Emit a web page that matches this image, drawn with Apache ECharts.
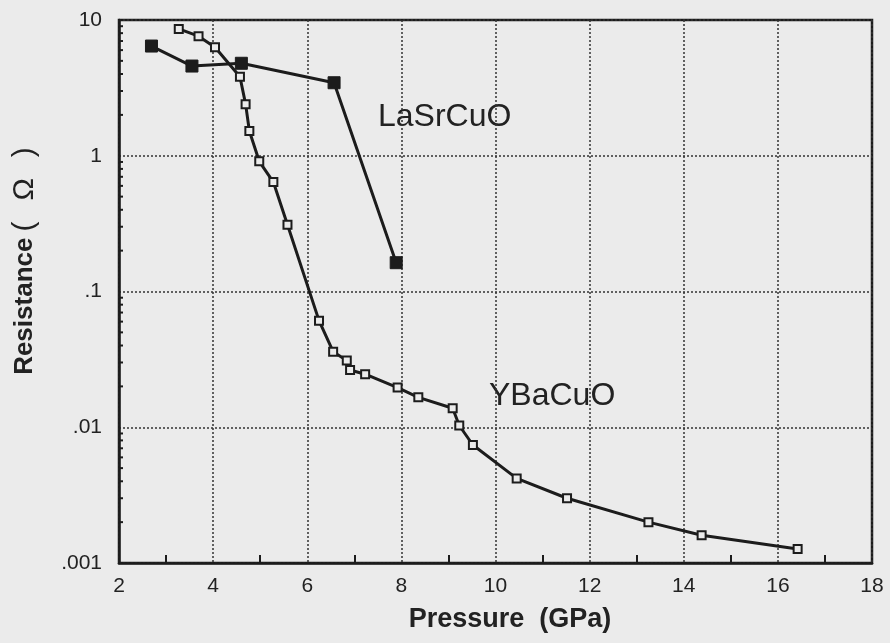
<!DOCTYPE html>
<html>
<head>
<meta charset="utf-8">
<title>Resistance vs Pressure</title>
<script src="https://cdn.jsdelivr.net/npm/echarts@6/dist/echarts.min.js"></script>
<style>
	html,body{margin:0;padding:0;background:#ebebeb;}
	#main{width:890px;height:643px;}
</style>
</head>
<body>
<div id="main"></div>
<script>
// YBaCuO (open squares)
var ybaPressure = [3.27, 3.69, 4.04, 4.57, 4.69, 4.77, 4.98, 5.28, 5.58, 6.25, 6.55, 6.84, 6.91, 7.23, 7.92, 8.36, 9.09, 9.23, 9.52, 10.45, 11.52, 13.25, 14.38, 16.42];
var ybaResistance = [8.59, 7.6, 6.3, 3.82, 2.4, 1.52, 0.91, 0.64, 0.31, 0.061, 0.036, 0.031, 0.0264, 0.0246, 0.0196, 0.0166, 0.0138, 0.0103, 0.0074, 0.0042, 0.0030, 0.0020, 0.0016, 0.00127];

// LaSrCuO (filled squares)
var lsoPressure = [2.69, 3.55, 4.60, 6.57, 7.89];
var lsoResistance = [6.43, 4.58, 4.80, 3.45, 0.163];

var xTicks = [2, 4, 6, 8, 10, 12, 14, 16, 18];
var yTickLabels = {'-3': '.001', '-2': '.01', '-1': '.1', '0': '1', '1': '10'};
var decades = [0.001, 0.01, 0.1, 1];
var mantissas = [2, 3, 4, 5, 6, 7, 8, 9];

window.onload = function(){
	drawChart();
};

function pairs(xs, ys){
	var out = [];
	for(var i=0;i<xs.length;i++){
		out.push([xs[i], ys[i]]);
	}
	return out;
}

function drawChart(){
	var myChart = echarts.init(document.getElementById('main'), null, {renderer:'canvas'});

	// log minor ticks on the left axis (2..9 in each decade)
	var logMinor = [];
	decades.forEach(function(d){
		mantissas.forEach(function(m){
			logMinor.push([xTicks[0], m * d]);
		});
	});

	var ink = '#1c1c1c';
	var font = '"Liberation Sans", Arial, Helvetica, sans-serif';

	var option = {
		backgroundColor: '#ebebeb',
		animation: false,
		grid: {
			left: 119, right: 18, top: 20, bottom: 80,
			show: true, borderColor: ink, borderWidth: 2.5,
			backgroundColor: 'transparent'
		},
		xAxis: {
			type: 'value',
			min: xTicks[0], max: xTicks[xTicks.length-1], interval: 2,
			axisLine: {show: true, lineStyle: {color: ink, width: 2.5}},
			axisTick: {show: false, inside: true},
			minorTick: {show: true, splitNumber: 2, length: 8, lineStyle: {color: ink, width: 2}},
			axisLabel: {color: '#222', fontSize: 21, fontFamily: font, margin: 13},
			splitLine: {show: true, lineStyle: {color: '#333', width: 1.5, type: [2, 2]}}
		},
		yAxis: {
			type: 'log', logBase: 10,
			min: 0.001, max: 10,
			axisLine: {show: true, lineStyle: {color: ink, width: 2.5}},
			axisTick: {show: false},
			axisLabel: {
				color: '#222', fontSize: 21, fontFamily: font, margin: 17,
				formatter: function(v){
					return yTickLabels[Math.round(Math.log10(v))];
				}
			},
			splitLine: {show: true, lineStyle: {color: '#333', width: 1.5, type: [2, 2]}}
		},
		series: [
			{
				name: 'LaSrCuO',
				type: 'line',
				data: pairs(lsoPressure, lsoResistance),
				symbol: 'rect', symbolSize: 12,
				lineStyle: {color: ink, width: 3},
				itemStyle: {color: ink, borderColor: ink, borderWidth: 1},
				z: 3
			},
			{
				name: 'YBaCuO',
				type: 'line',
				data: pairs(ybaPressure, ybaResistance),
				symbol: 'rect', symbolSize: 8,
				lineStyle: {color: ink, width: 3},
				itemStyle: {color: '#ebebeb', borderColor: ink, borderWidth: 2},
				z: 4
			},
			{
				name: 'minor',
				type: 'custom',
				silent: true,
				clip: false,
				data: logMinor,
				renderItem: function(params, api){
					var p = api.coord([api.value(0), api.value(1)]);
					return {
						type: 'line',
						shape: {x1: p[0], y1: p[1], x2: p[0] + 4, y2: p[1]},
						style: {stroke: ink, lineWidth: 2}
					};
				}
			}
		],
		graphic: [
			{
				type: 'text', x: 378, y: 117,
				style: {text: 'LaSrCuO', font: '32px ' + font, fill: '#222', textAlign: 'left', textVerticalAlign: 'middle'}
			},
			{
				type: 'text', x: 489, y: 396,
				style: {text: 'YBaCuO', font: '32px ' + font, fill: '#222', textAlign: 'left', textVerticalAlign: 'middle'}
			},
			{
				type: 'text', x: 510, y: 620,
				style: {text: 'Pressure  (GPa)', font: 'bold 27px ' + font, fill: '#222', textAlign: 'center', textVerticalAlign: 'middle'}
			},
			{
				type: 'text', x: 25, y: 261, rotation: Math.PI / 2,
				style: {
					text: '{r|Resistance}{p|\u2009(\u2002\u2009\u03A9\u2002\u2009)}',
					textAlign: 'center', textVerticalAlign: 'middle',
					rich: {
						r: {font: 'bold 26px ' + font, fill: '#222'},
						p: {font: '30px ' + font, fill: '#222'}
					}
				}
			}
		]
	};
	myChart.setOption(option);
}
</script>
</body>
</html>
